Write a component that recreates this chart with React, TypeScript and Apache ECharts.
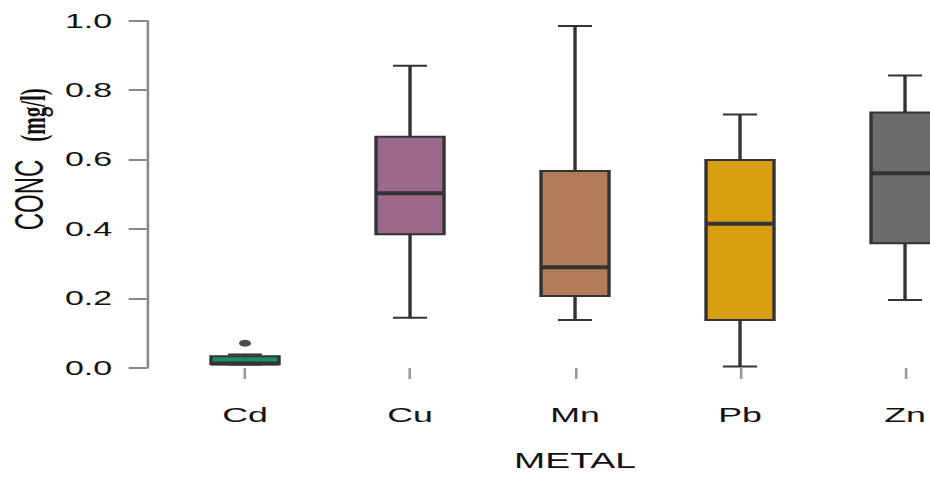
import React, { useEffect, useRef } from "react";
import * as echarts from "echarts";

// Data
const categories = ["Cd", "Cu", "Mn", "Pb", "Zn"];
const lowerWhisker = [0.010, 0.145, 0.138, 0.004, 0.196];
const q1Values = [0.011, 0.385, 0.207, 0.138, 0.359];
const medianValues = [0.013, 0.503, 0.290, 0.415, 0.561];
const q3Values = [0.034, 0.666, 0.567, 0.599, 0.736];
const upperWhisker = [0.039, 0.870, 0.985, 0.730, 0.842];
const outliers = [["Cd", 0.071]];
const boxColors = ["#1E8C6A", "#9B6A8B", "#B27B5A", "#D99D12", "#6C6C6C"];

const STRETCH = 1.7;
const W = 600;
const H = 477;
const FONT = '"Liberation Sans", Arial, Helvetica, sans-serif';

export default function App() {
  const ref = useRef<HTMLDivElement>(null);

  useEffect(() => {
    document.body.style.margin = "0";
    if (!ref.current) return;
    const chart = echarts.init(ref.current, undefined, { renderer: "svg" });

    const boxData = categories.map((_, i) => [
      i,
      lowerWhisker[i],
      q1Values[i],
      medianValues[i],
      q3Values[i],
      upperWhisker[i],
    ]);

    const border = "#333333";
    const boxW = 40;
    const capW = 20;

    const option: any = {
      animation: false,
      textStyle: { fontFamily: FONT },
      grid: { left: 95.6, right: 19.1, top: 20.7, bottom: 109, containLabel: false },
      xAxis: {
        type: "category",
        data: categories,
        boundaryGap: true,
        offset: 19,
        axisLine: { show: false },
        axisTick: {
          show: true,
          alignWithLabel: true,
          length: 11,
          lineStyle: { color: "#999999", width: 1.5 },
        },
        axisLabel: { color: "#111111", fontSize: 21, margin: 17, fontFamily: FONT },
        name: "METAL",
        nameLocation: "middle",
        nameGap: 62,
        nameTextStyle: { color: "#111111", fontSize: 22, fontFamily: FONT },
        splitLine: { show: false },
      },
      yAxis: {
        type: "value",
        min: 0,
        max: 1,
        interval: 0.2,
        offset: 9.3,
        axisLine: { show: true, lineStyle: { color: "#888888", width: 1.5 } },
        axisTick: { show: true, length: 10.6, lineStyle: { color: "#888888", width: 2 } },
        axisLabel: {
          color: "#111111",
          fontSize: 20,
          margin: 20.3,
          fontFamily: FONT,
          formatter: (v: number) => v.toFixed(1),
        },
        splitLine: { show: false },
      },
      graphic: [
        {
          type: "text",
          x: 17,
          y: 195,
          rotation: Math.PI / 2,
          style: {
            text: "CONC",
            fontSize: 24,
            fontFamily: FONT,
            fill: "#111111",
            textAlign: "center",
            textVerticalAlign: "middle",
          },
        },
        {
          type: "text",
          x: 19.5,
          y: 115,
          rotation: Math.PI / 2,
          style: {
            text: "(mg/l)",
            fontSize: 21,
            fontWeight: "bold",
            fontFamily: '"Liberation Serif", "Times New Roman", serif',
            fill: "#111111",
            textAlign: "center",
            textVerticalAlign: "middle",
          },
        },
      ],
      series: [
        {
          type: "custom",
          data: boxData,
          encode: { x: 0, y: [1, 2, 3, 4, 5] },
          renderItem: (params: any, api: any) => {
            const idx = api.value(0);
            const lo = api.coord([idx, api.value(1)]);
            const q1 = api.coord([idx, api.value(2)]);
            const md = api.coord([idx, api.value(3)]);
            const q3 = api.coord([idx, api.value(4)]);
            const hi = api.coord([idx, api.value(5)]);
            const cx = lo[0];
            const lineStyle = { stroke: border, lineWidth: 2 };
            return {
              type: "group",
              children: [
                { type: "line", shape: { x1: cx, y1: hi[1], x2: cx, y2: q3[1] }, style: lineStyle },
                { type: "line", shape: { x1: cx, y1: q1[1], x2: cx, y2: lo[1] }, style: lineStyle },
                { type: "line", shape: { x1: cx - capW / 2, y1: hi[1], x2: cx + capW / 2, y2: hi[1] }, style: lineStyle },
                { type: "line", shape: { x1: cx - capW / 2, y1: lo[1], x2: cx + capW / 2, y2: lo[1] }, style: lineStyle },
                {
                  type: "rect",
                  shape: { x: cx - boxW / 2, y: q3[1], width: boxW, height: q1[1] - q3[1] },
                  style: { fill: boxColors[idx], stroke: border, lineWidth: 2 },
                },
                { type: "line", shape: { x1: cx - boxW / 2, y1: md[1], x2: cx + boxW / 2, y2: md[1] }, style: { stroke: border, lineWidth: 4 } },
              ],
            };
          },
        },
        {
          type: "scatter",
          data: outliers,
          symbol: "circle",
          symbolSize: 7,
          itemStyle: { color: "#222222" },
        },
      ],
    };

    chart.setOption(option);
    return () => chart.dispose();
  }, []);

  return (
    <div style={{ width: 930, height: H, overflow: "hidden" }}>
      <div
        ref={ref}
        style={{ width: W, height: H, transform: `scaleX(${STRETCH})`, transformOrigin: "0 0" }}
      />
    </div>
  );
}
